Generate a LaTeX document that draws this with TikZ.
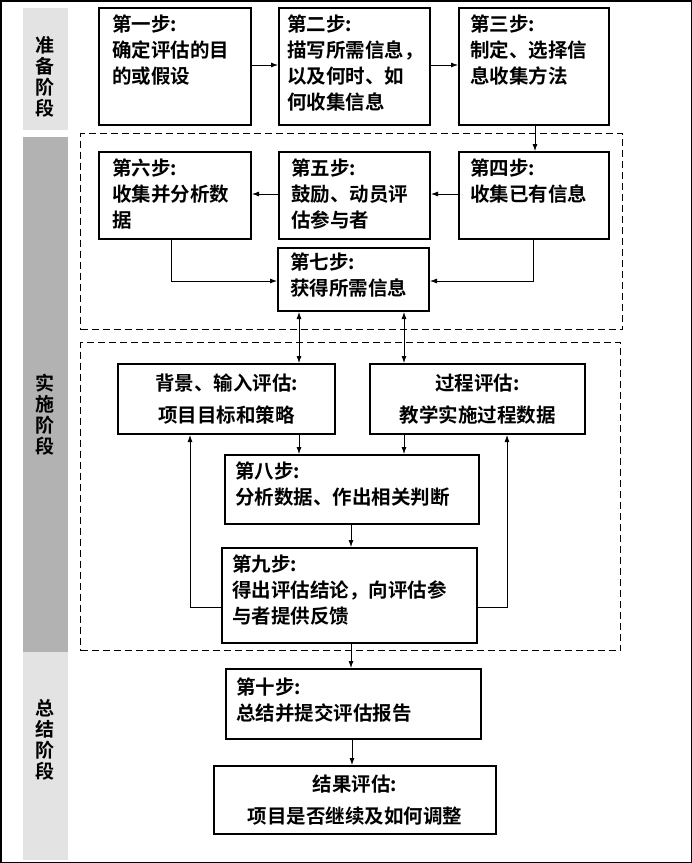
\documentclass[tikz,border=0pt]{standalone}
\usepackage{fontspec}
\setmainfont{Noto Sans CJK SC Bold}
\usetikzlibrary{arrows.meta}
\begin{document}
\begin{tikzpicture}[x=1pt,y=-1pt,
  box/.style={draw,line width=2pt,anchor=north west,inner sep=0pt},
  txt/.style={anchor=north west,align=left,inner sep=0pt,font=\fontsize{19.5}{26}\selectfont},
  ctxt/.style={align=center,inner sep=0pt,font=\fontsize{19.5}{32}\selectfont},
  arr/.style={-{Latex[length=7pt,width=5pt]},line width=0.8pt},
  darr/.style={{Latex[length=7pt,width=5pt]}-{Latex[length=7pt,width=5pt]},line width=0.8pt},
  frame/.style={draw,dashed,line width=1.2pt,dash pattern=on 7pt off 4pt},
  side/.style={font=\fontsize{19}{21}\selectfont,align=center}]
\useasboundingbox (0,0) rectangle (692,863);
\fill[white] (0,0) rectangle (692,863);
% sidebar
\fill[gray!22] (23,8) rectangle (68,130);
\fill[gray!60] (23,137) rectangle (68,652);
\fill[gray!22] (23,652) rectangle (68,860);
\node[side] (p1) at (45,77) {准\\备\\阶\\段};
\node[side] (p2) at (45,415) {实\\施\\阶\\段};
\node[side] (p3) at (45,740) {总\\结\\阶\\段};
% dashed frames
\node[frame,anchor=north west,minimum width=542pt,minimum height=196pt,inner sep=0pt] (f1) at (80,133) {};
\node[frame,anchor=north west,minimum width=540pt,minimum height=308pt,inner sep=0pt] (f2) at (80,342) {};
% boxes
\node[box,minimum width=152pt,minimum height=117pt] (s1) at (98,7) {};
\node[box,minimum width=151pt,minimum height=117pt] (s2) at (278,7) {};
\node[box,minimum width=150pt,minimum height=117pt] (s3) at (458,7) {};
\node[box,minimum width=152pt,minimum height=87pt] (s6) at (98,151) {};
\node[box,minimum width=151pt,minimum height=87pt] (s5) at (278,151) {};
\node[box,minimum width=150pt,minimum height=87pt] (s4) at (458,151) {};
\node[box,minimum width=151pt,minimum height=63pt] (s7) at (277,247) {};
\node[box,minimum width=217pt,minimum height=70pt] (bg) at (117,363) {};
\node[box,minimum width=215pt,minimum height=70pt] (gc) at (369,363) {};
\node[box,minimum width=254pt,minimum height=69pt] (s8) at (224,454) {};
\node[box,minimum width=255pt,minimum height=95pt] (s9) at (221,547) {};
\node[box,minimum width=255pt,minimum height=70pt] (s10) at (225,668) {};
\node[box,minimum width=282pt,minimum height=68pt] (res) at (213,765) {};
% texts
\node[txt] (t1) at ([shift={(14,8)}]s1.north west) {第一步:\\确定评估的目\\的或假设};
\node[txt] (t2) at ([shift={(9,8)}]s2.north west) {第二步:\\描写所需信息，\\以及何时、如\\何收集信息};
\node[txt] (t3) at ([shift={(12,8)}]s3.north west) {第三步:\\制定、选择信\\息收集方法};
\node[txt] (t6) at ([shift={(14,8)}]s6.north west) {第六步:\\收集并分析数\\据};
\node[txt] (t5) at ([shift={(13,8)}]s5.north west) {第五步:\\鼓励、动员评\\估参与者};
\node[txt] (t4) at ([shift={(12,8)}]s4.north west) {第四步:\\收集已有信息};
\node[txt] (t7) at ([shift={(13,6)}]s7.north west) {第七步:\\获得所需信息};
\node[ctxt] (tb) at (bg.center) {背景、输入评估:\\项目目标和策略};
\node[ctxt] (tg) at (gc.center) {过程评估:\\教学实施过程数据};
\node[txt] (t8) at ([shift={(11,8)}]s8.north west) {第八步:\\分析数据、作出相关判断};
\node[txt] (t9) at ([shift={(11,8)}]s9.north west) {第九步:\\得出评估结论，向评估参\\与者提供反馈};
\node[txt] (t10) at ([shift={(11,10)}]s10.north west) {第十步:\\总结并提交评估报告};
\node[ctxt] (tr) at (res.center) {结果评估:\\项目是否继续及如何调整};
% connectors
\draw[arr] (s1.east|-0,65) -- (s2.west|-0,65);
\draw[arr] (s2.east|-0,65) -- (s3.west|-0,65);
\draw[arr] (s3.south-|535,0) -- (s4.north-|535,0);
\draw[arr] (s4.west|-0,194) -- (s5.east|-0,194);
\draw[arr] (s5.west|-0,194) -- (s6.east|-0,194);
\draw[arr] (s6.south-|171,0) |- (s7.west|-0,281);
\draw[arr] (s4.south-|533,0) |- (s7.east|-0,281);
\draw[darr] (s7.south-|299,0) -- (bg.north-|299,0);
\draw[darr] (s7.south-|404,0) -- (gc.north-|404,0);
\draw[arr] (bg.south-|299,0) -- (s8.north-|299,0);
\draw[arr] (gc.south-|404,0) -- (s8.north-|404,0);
\draw[arr] (s8.south-|351,0) -- (s9.north-|351,0);
\draw[arr] (s9.west|-0,607) -| (bg.south-|190,0);
\draw[arr] (s9.east|-0,607) -| (gc.south-|507,0);
\draw[arr] (s9.south-|351,0) -- (s10.north-|351,0);
\draw[arr] (s10.south-|352,0) -- (res.north-|352,0);
\draw[line width=3pt] (0,0) rectangle (692,863);
\end{tikzpicture}
\end{document}
